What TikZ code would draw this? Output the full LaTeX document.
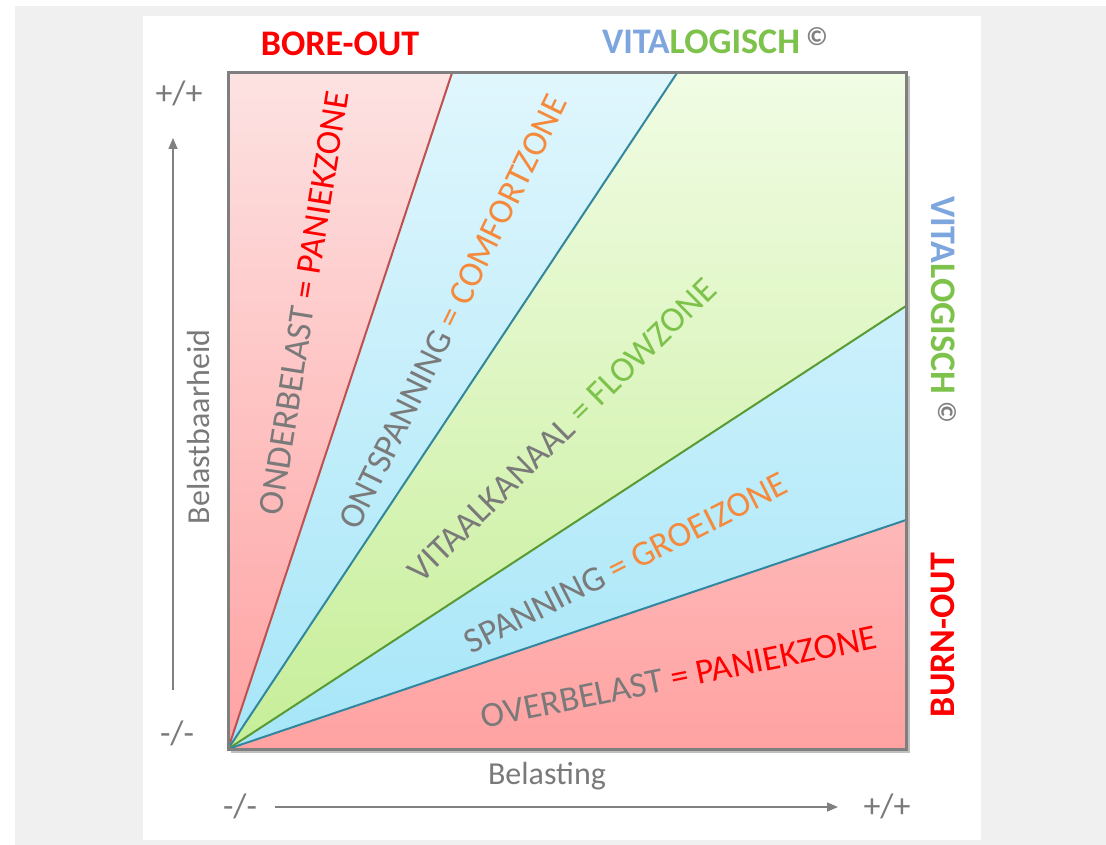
\documentclass[tikz,border=0pt]{standalone}
\usepackage{fontspec}
\setmainfont{Carlito}
\usetikzlibrary{arrows.meta}
\definecolor{panelgray}{HTML}{F0F0F0}
\definecolor{txtgray}{HTML}{7A7A7A}
\definecolor{axisgray}{HTML}{808080}
\definecolor{bordergray}{HTML}{7F7F7F}
\definecolor{zred}{HTML}{FF0000}
\definecolor{zorange}{HTML}{F58A3C}
\definecolor{zgreen}{HTML}{7DC24B}
\definecolor{vblue}{HTML}{7EA6DE}
\definecolor{redtop}{HTML}{FDE2E2}
\definecolor{redbot}{HTML}{FFA2A2}
\definecolor{bluetop}{HTML}{E0F6FD}
\definecolor{bluebot}{HTML}{A6E6F8}
\definecolor{greentop}{HTML}{F1FCE4}
\definecolor{greenbot}{HTML}{C6EE98}
\definecolor{redline}{HTML}{C0504D}
\definecolor{tealline}{HTML}{31879F}
\definecolor{greenline}{HTML}{5A9A32}
\tikzset{
  zonetext/.style={font=\fontsize{35.5}{40}\selectfont, inner sep=0pt, anchor=center},
  boldtext/.style={font=\fontsize{36}{40}\selectfont\bfseries, inner sep=0pt},
  axislabel/.style={font=\fontsize{32}{38}\selectfont, text=txtgray, inner sep=0pt},
  marklabel/.style={font=\fontsize{34}{40}\selectfont, text=txtgray, inner sep=0pt},
  axisline/.style={draw=axisgray, line width=1.5pt, -{Triangle[length=11pt,width=9pt]}},
  copyr/.style={font=\fontsize{26}{30}\selectfont\bfseries, text=gray, inner sep=0pt}
}
\begin{document}
\begin{tikzpicture}[x=1pt,y=-1pt]
\useasboundingbox (0,0) rectangle (1106,845);
\fill[white] (0,0) rectangle (1106,845);
\fill[panelgray] (15,6) rectangle (1106,845);
\fill[white] (143,16) rectangle (981,840);

\coordinate (O) at (228,749);
\coordinate (TL) at (228,73);
\coordinate (TR) at (906,73);
\coordinate (BR) at (906,749);
\coordinate (A) at (452,73);
\coordinate (B) at (677,73);
\coordinate (C) at (906,306);
\coordinate (D) at (906,520);

% shadow
\fill[black!25] (231,76) rectangle (910,753);

% zones
\begin{scope}\clip (O)--(TL)--(A)--cycle;
\shade[top color=redtop,bottom color=redbot] (TL) rectangle (BR);\end{scope}
\begin{scope}\clip (O)--(A)--(B)--cycle;
\shade[top color=bluetop,bottom color=bluebot] (TL) rectangle (BR);\end{scope}
\begin{scope}\clip (O)--(B)--(TR)--(C)--cycle;
\shade[top color=greentop,bottom color=greenbot] (TL) rectangle (BR);\end{scope}
\begin{scope}\clip (O)--(C)--(D)--cycle;
\shade[top color=bluetop,bottom color=bluebot] (TL) rectangle (BR);\end{scope}
\begin{scope}\clip (O)--(D)--(BR)--cycle;
\shade[top color=redtop,bottom color=redbot] (TL) rectangle (BR);\end{scope}

\draw[redline, line width=2pt] (O)--(A);
\draw[tealline, line width=2pt] (O)--(B);
\draw[greenline, line width=2pt] (O)--(C);
\draw[tealline, line width=2pt] (O)--(D);
\draw[bordergray, line width=3pt] (TL) rectangle (BR);

% zone labels
\node[zonetext, rotate=81] (z1) at (304,303) {\color{txtgray}ONDERBELAST \color{zred}= PANIEKZONE};
\node[zonetext, rotate=64] (z2) at (453,312) {\color{txtgray}ONTSPANNING \color{zorange}= COMFORTZONE};
\node[zonetext, rotate=44.5] (z3) at (562,430) {\color{txtgray}VITAALKANAAL \color{zgreen}= FLOWZONE};
\node[zonetext, rotate=27] (z4) at (626,563) {\color{txtgray}SPANNING \color{zorange}= GROEIZONE};
\node[zonetext, rotate=11.5] (z5) at (679,677) {\color{txtgray}OVERBELAST \color{zred}= PANIEKZONE};

% titles
\node[boldtext, text=zred] (bore) at (340,44) {BORE-OUT};
\node[boldtext] (vita1) at (701,42) {\color{vblue}VITA\color{zgreen}LOGISCH};
\node[copyr] (c1) at (817,37) {©};
\node[boldtext, rotate=-90] (vita2) at (943,295) {\color{vblue}VITA\color{zgreen}LOGISCH};
\node[copyr, rotate=-90] (c2) at (947,412) {©};
\node[boldtext, text=zred, rotate=90] (burn) at (943,635) {BURN-OUT};

% axes
\node[axislabel, rotate=90] (yl) at (199,427) {Belastbaarheid};
\node[axislabel] (xl) at (547,776) {Belasting};
\node[marklabel] (ytop) at (179,93) {+/+};
\node[marklabel] (ybot) at (177,733) {-/-};
\node[marklabel] (xleft) at (240,806) {-/-};
\node[marklabel] (xright) at (887,806) {+/+};
\coordinate (ys) at (173,690);
\coordinate (ye) at (173,138);
\coordinate (xs) at (275,807);
\coordinate (xe) at (838,807);
\draw[axisline] (ys) -- (ye);
\draw[axisline] (xs) -- (xe);
\end{tikzpicture}
\end{document}
